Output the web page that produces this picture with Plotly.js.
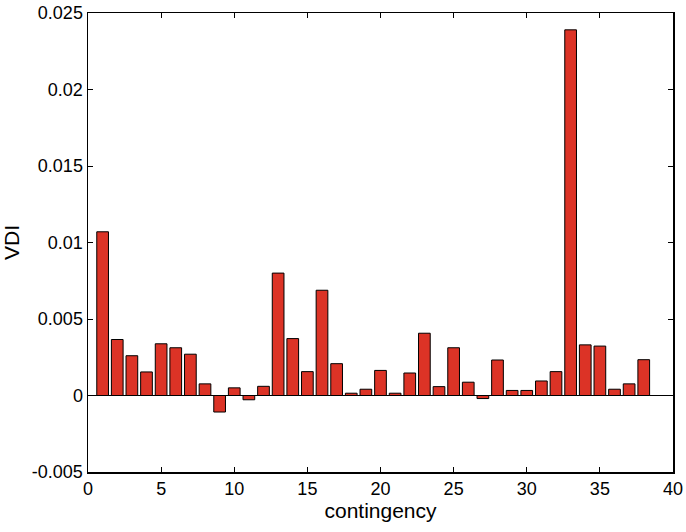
<!DOCTYPE html>
<html>
<head>
<meta charset="utf-8">
<script src="https://cdn.plot.ly/plotly-3.0.1.min.js"></script>
<style>html,body{margin:0;padding:0;background:#fff;}#chart{width:686px;height:532px;}</style>
</head>
<body>
<div id="chart"></div>
<script>
const contingency = [1,2,3,4,5,6,7,8,9,10,11,12,13,14,15,16,17,18,19,20,21,22,23,24,25,26,27,28,29,30,31,32,33,34,35,36,37,38];
const vdi = [0.0107,0.00366,0.0026,0.00154,0.00338,0.00312,0.0027,0.00076,-0.00108,0.0005,-0.00028,0.0006,
             0.0080,0.00372,0.00156,0.00688,0.00208,0.00015,0.00041,0.00164,0.00015,0.00147,0.00407,0.00058,
             0.00312,0.00087,-0.0002,0.00232,0.00033,0.00033,0.00095,0.00156,0.0239,0.00331,0.00323,0.00041,0.00076,0.00234];
const yTickVals = [-0.005,0,0.005,0.01,0.015,0.02,0.025];
const yTickText = ["-0.005","0","0.005","0.01","0.015","0.02","0.025"];
const xTickVals = [0,5,10,15,20,25,30,35,40];

const font = {family: "Liberation Sans, Arial, Helvetica, sans-serif", color: "#000"};

Plotly.newPlot("chart", [{
  type: "bar",
  x: contingency,
  y: vdi,
  width: 0.8,
  marker: {color: "#dc3326", line: {color: "#000", width: 1}},
  hoverinfo: "x+y"
}], {
  width: 686, height: 532,
  margin: {l: 88, r: 13, t: 13, b: 60},
  paper_bgcolor: "#fff", plot_bgcolor: "#fff",
  showlegend: false,
  font: font,
  xaxis: {
    range: [0, 40], tickvals: xTickVals, ticks: "inside", ticklen: 5, tickwidth: 1, tickcolor: "#000",
    showline: true, linecolor: "#000", linewidth: 1.5, mirror: "ticks", showgrid: false, zeroline: false,
    tickfont: {size: 18, family: font.family, color: "#000"},
    title: {text: "contingency", font: {size: 21, family: font.family, color: "#000"}, standoff: 5}
  },
  yaxis: {
    range: [-0.005, 0.025], tickvals: yTickVals, ticktext: yTickText, ticks: "inside", ticklen: 5, tickwidth: 1, tickcolor: "#000",
    showline: true, linecolor: "#000", linewidth: 1.5, mirror: "ticks", showgrid: false,
    zeroline: true, zerolinecolor: "#000", zerolinewidth: 1,
    tickfont: {size: 18, family: font.family, color: "#000"},
    title: {text: "VDI", font: {size: 21, family: font.family, color: "#000"}, standoff: 6}
  }
}, {displayModeBar: false, staticPlot: true});
</script>
</body>
</html>
